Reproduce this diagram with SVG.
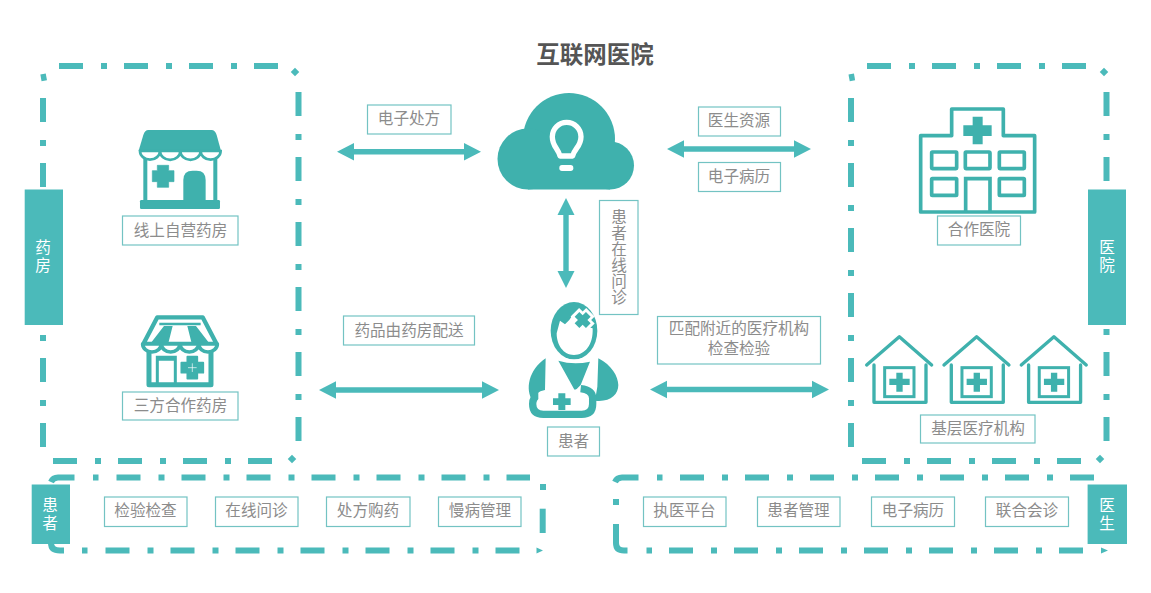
<svg xmlns="http://www.w3.org/2000/svg" width="1151" height="593" viewBox="0 0 1151 593">
<style>
text{font-family:"Noto Sans CJK SC","Noto Sans",sans-serif;font-size:15.6px;fill:#8c8c8c;text-anchor:middle}
.w{fill:#fff;writing-mode:vertical-rl;letter-spacing:2.4px}
.t{font-size:23.5px;font-weight:700;fill:#555}
.box{fill:#fff;stroke:#73c3c3;stroke-width:1.2}
.d{fill:none;stroke:#4bbaba;stroke-width:6;stroke-dasharray:24 18 6 17}
.s{fill:none;stroke:#4bbaba;stroke-width:6}
.side{fill:#4bbaba}
.i{fill:#3fb1ad}
.o{fill:none;stroke:#3fb1ad}
.ar{fill:#4bbaba}
.v{writing-mode:vertical-rl;letter-spacing:.4px}
</style>
<defs>
<g id="house">
<path class="o" stroke-width="10" stroke-linejoin="round" stroke-linecap="round" d="M50,135 L148,50 L245,135 M72,135 V247 H228 V135"/>
<rect x="104" y="143" width="88" height="87" class="o" stroke-width="9"/>
<path class="i" d="M139,158 h19 v18 h21 v19 h-21 v20 h-19 v-20 h-21 v-19 h21 z"/>
</g>
</defs>
<rect width="1151" height="593" fill="#fff"/>
<g id="frames">
<path class="d" d="M59,66 H280"/>
<path class="d" d="M298.500,92 V445"/>
<path class="d" d="M43,98 V450"/>
<path class="d" d="M53,461 H275"/>
<rect x="41" y="74" width="5.500" height="7" fill="#4bbaba" transform="rotate(-10 43 78)"/>
<rect x="292" y="69" width="6" height="6" fill="#4bbaba" transform="rotate(45 295 72)"/>
<rect x="289" y="456" width="6" height="6" fill="#4bbaba" transform="rotate(45 292 459)"/>
<path class="d" d="M867,66 H1088"/>
<path class="d" d="M1106.500,92 V445"/>
<path class="d" d="M851,98 V450"/>
<path class="d" d="M862,461 H1083"/>
<rect x="849" y="74" width="5.500" height="7" fill="#4bbaba" transform="rotate(-10 851 77)"/>
<rect x="1101" y="69" width="6" height="6" fill="#4bbaba" transform="rotate(45 1104 72)"/>
<rect x="1097" y="456" width="6" height="6" fill="#4bbaba" transform="rotate(45 1100 459)"/>
<path class="d" d="M116.500,477.500 H530"/>
<path class="s" d="M74.500,477.500 H58 Q53,477.500 51,482"/>
<rect x="93" y="474.500" width="5.500" height="6" fill="#4bbaba"/>
<path class="d" d="M105.500,550.500 H520"/>
<rect x="82" y="547.500" width="5.500" height="6" fill="#4bbaba"/>
<path class="s" d="M51,543 Q51,550.500 60,550.500 H64"/>
<path d="M536.500,547.500 L543,550.500 L536.500,553.500 Z" fill="#4bbaba"/>
<rect x="540" y="484" width="6" height="6" fill="#4bbaba"/>
<path class="s" d="M542.700,508.700 V533"/>
<path class="d" d="M680,477.500 H1094"/>
<rect x="657" y="474.500" width="5.500" height="6" fill="#4bbaba"/>
<path class="s" d="M638.500,477.500 H622 Q617,477.500 615,482"/>
<rect x="613" y="499" width="6" height="6" fill="#4bbaba"/>
<path class="s" d="M616,524 V543 Q616,550.500 624,550.500 H627.500"/>
<rect x="646.500" y="547.500" width="5.500" height="6" fill="#4bbaba"/>
<path class="d" d="M669,550.500 H1083"/>
<path d="M1101,547.500 L1108,550.500 L1101,553.500 Z" fill="#4bbaba"/>
</g>
<g id="connectors">
<path class="ar" d="M337,151.700 L354,143 V149 H464 V143 L481,151.700 L464,160.500 V154.500 H354 V160.500 Z"/>
<path class="ar" d="M667,149 L684,140.300 V146.300 H794 V140.300 L811,149 L794,157.700 V151.700 H684 V157.700 Z"/>
<path class="ar" d="M566,198 L574.500,215 H568.700 V271 H574.500 L566,288 L557.500,271 H563.300 V215 H557.500 Z"/>
<path class="ar" d="M319,390 L336,381.300 V387.300 H482 V381.300 L499,390 L482,398.700 V392.700 H336 V398.700 Z"/>
<path class="ar" d="M650,389.500 L667,380.800 V386.800 H812 V380.800 L829,389.500 L812,398.200 V392.200 H667 V398.200 Z"/>
</g>
<g id="title"><text class="t" x="595" y="63">互联网医院</text></g>
<g id="side-pharmacy"><rect class="side" x="24.700" y="189.500" width="38.300" height="135.500"/><text class="w" x="43" y="257">药房</text></g>
<g id="side-hospital"><rect class="side" x="1088" y="189.500" width="38" height="135.500"/><text class="w" x="1107" y="257">医院</text></g>
<g id="side-patient"><rect class="side" x="31.700" y="484.500" width="38.300" height="59.500"/><text class="w" x="50" y="515">患者</text></g>
<g id="side-doctor"><rect class="side" x="1087.600" y="484.500" width="39.400" height="59.500"/><text class="w" x="1107" y="515">医生</text></g>
<g id="store-online">
<g transform="translate(20,50) scale(.3333)">
<path class="i" d="M385,240 H575 Q585,240 590,255 L603,302 H356 L370,255 Q375,240 385,240 Z"/>
<path class="o" stroke-width="12" d="M376,320 V455 M586,320 V455"/>
<path fill="#fff" stroke="#3fb1ad" stroke-width="8" d="M360,303 a30,26 0 0 0 60,0 a30,26 0 0 0 61,0 a30,26 0 0 0 61,0 a30,26 0 0 0 60,0 Z"/>
<rect class="i" x="360" y="450" width="240" height="27" rx="4"/>
<path class="i" d="M412,346 h34 v16 h16 v33 h-16 v17 h-34 v-17 h-15 v-33 h15 z" stroke="#3fb1ad" stroke-width="2" stroke-linejoin="round"/>
<path class="i" d="M490,450 V390 Q490,362 518,362 H530 Q557,362 557,390 V450 Z"/>
</g>
</g>
<g id="label-online"><rect class="box" x="122.500" y="216" width="115.500" height="29"/><text x="180.500" y="235.500">线上自营药房</text></g>
<g id="store-partner">
<g transform="translate(20,300) scale(.3333)">
<path fill="#fff" stroke="#3fb1ad" stroke-width="13" stroke-linejoin="round" d="M412,52 H548 L590,132 H370 Z"/>
<path class="o" stroke-width="7" d="M418,72 H542"/>
<path class="i" d="M432,78 L458,78 L445,130 L392,130 Z M502,78 L528,78 L568,130 L515,130 Z"/>
<path fill="#fff" stroke="#3fb1ad" stroke-width="11" stroke-linejoin="round" d="M368,132 a28,24 0 0 0 56,0 a28,24 0 0 0 56,0 a28,24 0 0 0 56,0 a28,24 0 0 0 56,0 Z"/>
<path class="o" stroke-width="15" stroke-linejoin="round" d="M387,156 V254 H573 V156"/>
<path class="o" stroke-width="9" d="M412,250 V172 H466 V250 M408,178 H470"/>
<path class="i" stroke="#3fb1ad" stroke-width="5" stroke-linejoin="round" d="M502,170 h30 v18 h18 v30 h-18 v18 h-30 v-18 h-18 v-30 h18 z"/>
<path d="M517,190 V216 M504,203 H530" stroke="#fff" stroke-width="2" fill="none"/>
</g>
</g>
<g id="label-partner"><rect class="box" x="122.500" y="392" width="115.500" height="28"/><text x="180.500" y="411">三方合作药房</text></g>
<g id="cloud">
<circle class="i" cx="569" cy="139" r="46"/>
<circle class="i" cx="528" cy="159" r="30.500"/>
<circle class="i" cx="610" cy="165.500" r="24"/>
<rect class="i" x="528" y="140" width="82" height="49.500"/>
<g transform="translate(480,80) scale(.3333)">
<path fill="none" stroke="#fff" stroke-width="16" stroke-linejoin="round" d="M240,228 C235,205 217,200 217,170 a43,43 0 0 1 86,0 C303,200 283,205 278,228 Z"/>
<rect x="238" y="255" width="42" height="18" rx="8" fill="#fff"/>
</g>
</g>
<g id="patient">
<g transform="translate(510,290) scale(.3333)">
<ellipse class="i" cx="192" cy="122" rx="70" ry="86"/>
<path fill="#fff" d="M140,130 L150,92 L165,103 Q180,90 190,72 Q215,115 248,115 C250,165 225,195 192,195 C160,195 140,165 140,130 Z"/>
<g transform="rotate(45 218 90)"><path fill="#fff" d="M200,57 h36 v15 h15 v36 h-15 v15 h-36 v-15 h-15 v-36 h15 z"/><path class="i" d="M208,66 h20 v14 h14 v20 h-14 v14 h-20 v-14 h-14 v-20 h14 z"/></g>
<path class="i" d="M107,205 L105,300 Q75,305 68,332 C45,300 55,240 107,205 Z"/>
<path class="i" d="M265,205 C305,225 325,260 325,285 C325,315 300,337 255,332 L262,290 Z"/>
<path class="i" d="M145,212 Q190,226 240,215 L212,285 L195,302 Z"/>
<path fill="#fff" stroke="#3fb1ad" stroke-width="22" d="M88,314 Q68,320 68,342 Q68,373 100,373 H215 Q248,373 248,342 V325 Q248,300 212,296"/>
<path fill="#fff" d="M85,308 H195 L205,322 V340 H85 Z"/>
<path class="i" d="M145,310 h21 v15 h16 v20 h-16 v15 h-21 v-15 h-16 v-20 h16 z"/>
</g>
</g>
<g id="label-patient"><rect class="box" x="547.500" y="427" width="52" height="29"/><text x="573.500" y="446.500">患者</text></g>
<g id="hospital">
<g transform="translate(900,90) scale(.3333)">
<path class="o" stroke-width="11" stroke-linejoin="round" d="M62,366 V137 H155 V57 H310 V137 H404 V366 Z"/>
<path class="i" d="M218,80 h30 v26 h27 v32 h-27 v25 h-30 v-25 h-28 v-32 h28 z"/>
<g class="o" stroke-width="11"><rect x="95" y="186" width="75" height="50" rx="2"/><rect x="196" y="186" width="74" height="50" rx="2"/><rect x="298" y="186" width="75" height="50" rx="2"/><rect x="95" y="266" width="75" height="50" rx="2"/><rect x="298" y="266" width="75" height="50" rx="2"/><path d="M197,366 V266 H270 V366"/></g>
</g>
</g>
<g id="label-hospital"><rect class="box" x="937.500" y="216" width="83" height="29"/><text x="979" y="235">合作医院</text></g>
<g id="clinics">
<use href="#house" transform="translate(850,320) scale(.3333)"/>
<use href="#house" transform="translate(927.300,320) scale(.3333)"/>
<use href="#house" transform="translate(1004.600,320) scale(.3333)"/>
</g>
<g id="label-clinics"><rect class="box" x="920.500" y="415" width="114.500" height="28"/><text x="978" y="434">基层医疗机构</text></g>
<g id="label-rx"><rect class="box" x="367.500" y="105" width="83.500" height="29"/><text x="409" y="124">电子处方</text></g>
<g id="label-res"><rect class="box" x="698.500" y="107" width="82" height="29"/><text x="739" y="126">医生资源</text></g>
<g id="label-emr"><rect class="box" x="698.500" y="162.500" width="82" height="29"/><text x="739" y="182">电子病历</text></g>
<g id="label-consult"><rect class="box" x="599.500" y="200.500" width="38.500" height="114"/><text class="v" x="619" y="257">患者在线问诊</text></g>
<g id="label-delivery"><rect class="box" x="343.500" y="316" width="131" height="29"/><text x="409" y="335.500">药品由药房配送</text></g>
<g id="label-match"><rect class="box" x="657.500" y="316.500" width="163" height="47.500"/><text x="739" y="334">匹配附近的医疗机构</text><text x="739" y="354">检查检验</text></g>
<g id="p1"><rect class="box" x="104.500" y="497" width="82.500" height="29.500"/><text x="145.500" y="516">检验检查</text></g>
<g id="p2"><rect class="box" x="215.500" y="497" width="82.500" height="29.500"/><text x="256.500" y="516">在线问诊</text></g>
<g id="p3"><rect class="box" x="326.500" y="497" width="83.500" height="29.500"/><text x="368" y="516">处方购药</text></g>
<g id="p4"><rect class="box" x="438.500" y="497" width="82.500" height="29.500"/><text x="480" y="516">慢病管理</text></g>
<g id="d1"><rect class="box" x="643.500" y="497" width="82.500" height="29.500"/><text x="684.500" y="516">执医平台</text></g>
<g id="d2"><rect class="box" x="757.500" y="497" width="82.500" height="29.500"/><text x="798.500" y="516">患者管理</text></g>
<g id="d3"><rect class="box" x="871.500" y="497" width="83" height="29.500"/><text x="913" y="516">电子病历</text></g>
<g id="d4"><rect class="box" x="985.500" y="497" width="83" height="29.500"/><text x="1027" y="516">联合会诊</text></g>
</svg>
